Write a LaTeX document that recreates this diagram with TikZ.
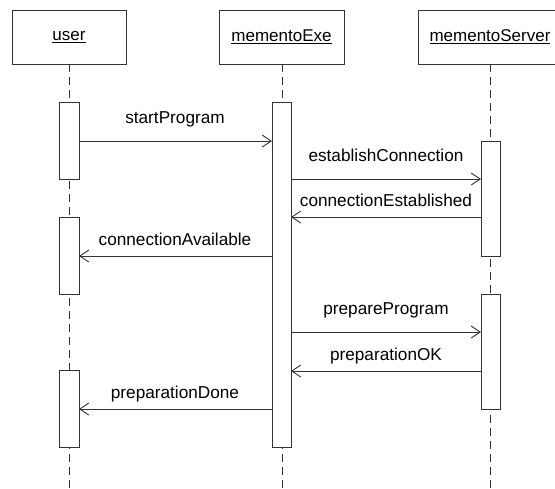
\documentclass[tikz,border=0pt]{standalone}
\usepackage{fontspec}
\setmainfont{Liberation Sans}
\usetikzlibrary{arrows.meta}
\begin{document}
\begin{tikzpicture}[x=1pt,y=-1pt,
  ln/.style={draw=black!80,line width=0.9pt},
  headbox/.style={ln,fill=white,minimum width=#1,minimum height=54pt,inner sep=0pt,font=\fontsize{17}{19}\selectfont},
  actbox/.style={ln,fill=white},
  lifeline/.style={ln,dash pattern=on 8pt off 5pt},
  msg/.style={ln,-{Straight Barb[length=9pt,width=12pt,line width=0.9pt]}},
  lbl/.style={font=\fontsize{17.2}{19}\selectfont,inner sep=0pt,anchor=base}]
\useasboundingbox (0,0) rectangle (555,488);
\clip (0,0) rectangle (555,488);
\fill[white] (0,0) rectangle (555,488);

% lifelines
\coordinate (uTop) at (69,64);   \coordinate (uBot) at (69,490);
\coordinate (eTop) at (282,64);  \coordinate (eBot) at (282,490);
\coordinate (sTop) at (490,64);  \coordinate (sBot) at (490,490);
\draw[lifeline] (uTop) -- (uBot);
\draw[lifeline] (eTop) -- (eBot);
\draw[lifeline] (sTop) -- (sBot);

% participants
\node[headbox=114pt] (user) at (69,37) {\underline{user}};
\node[headbox=125pt] (exe) at (281.5,37) {\underline{mementoExe}};
\node[headbox=144pt] (server) at (490,37) {\underline{mementoServer}};

% activation bars
\draw[actbox] (59,102) rectangle (79,179);
\draw[actbox] (59,217) rectangle (79,294);
\draw[actbox] (59,370) rectangle (79,447);
\draw[actbox] (272,102) rectangle (291,447);
\draw[actbox] (481,141) rectangle (500,256);
\draw[actbox] (481,294) rectangle (500,409);

% message end points
\coordinate (m1a) at (79,141);   \coordinate (m1b) at (272,141);
\coordinate (m2a) at (291,179);  \coordinate (m2b) at (481,179);
\coordinate (m3a) at (481,217);  \coordinate (m3b) at (291,217);
\coordinate (m4a) at (272,256);  \coordinate (m4b) at (79,256);
\coordinate (m5a) at (291,332);  \coordinate (m5b) at (481,332);
\coordinate (m6a) at (481,371);  \coordinate (m6b) at (291,371);
\coordinate (m7a) at (272,409);  \coordinate (m7b) at (79,409);

\draw[msg] (m1a) -- (m1b);
\draw[msg] (m2a) -- (m2b);
\draw[msg] (m3a) -- (m3b);
\draw[msg] (m4a) -- (m4b);
\draw[msg] (m5a) -- (m5b);
\draw[msg] (m6a) -- (m6b);
\draw[msg] (m7a) -- (m7b);

% message labels
\node[lbl] (l1) at (175,123.5) {startProgram};
\node[lbl] (l2) at (386,161.5) {establishConnection};
\node[lbl] (l3) at (386,206.5) {connectionEstablished};
\node[lbl] (l4) at (175,245.5) {connectionAvailable};
\node[lbl] (l5) at (386,314.5) {prepareProgram};
\node[lbl] (l6) at (386,360.5) {preparationOK};
\node[lbl] (l7) at (175,398.5) {preparationDone};
\end{tikzpicture}
\end{document}
